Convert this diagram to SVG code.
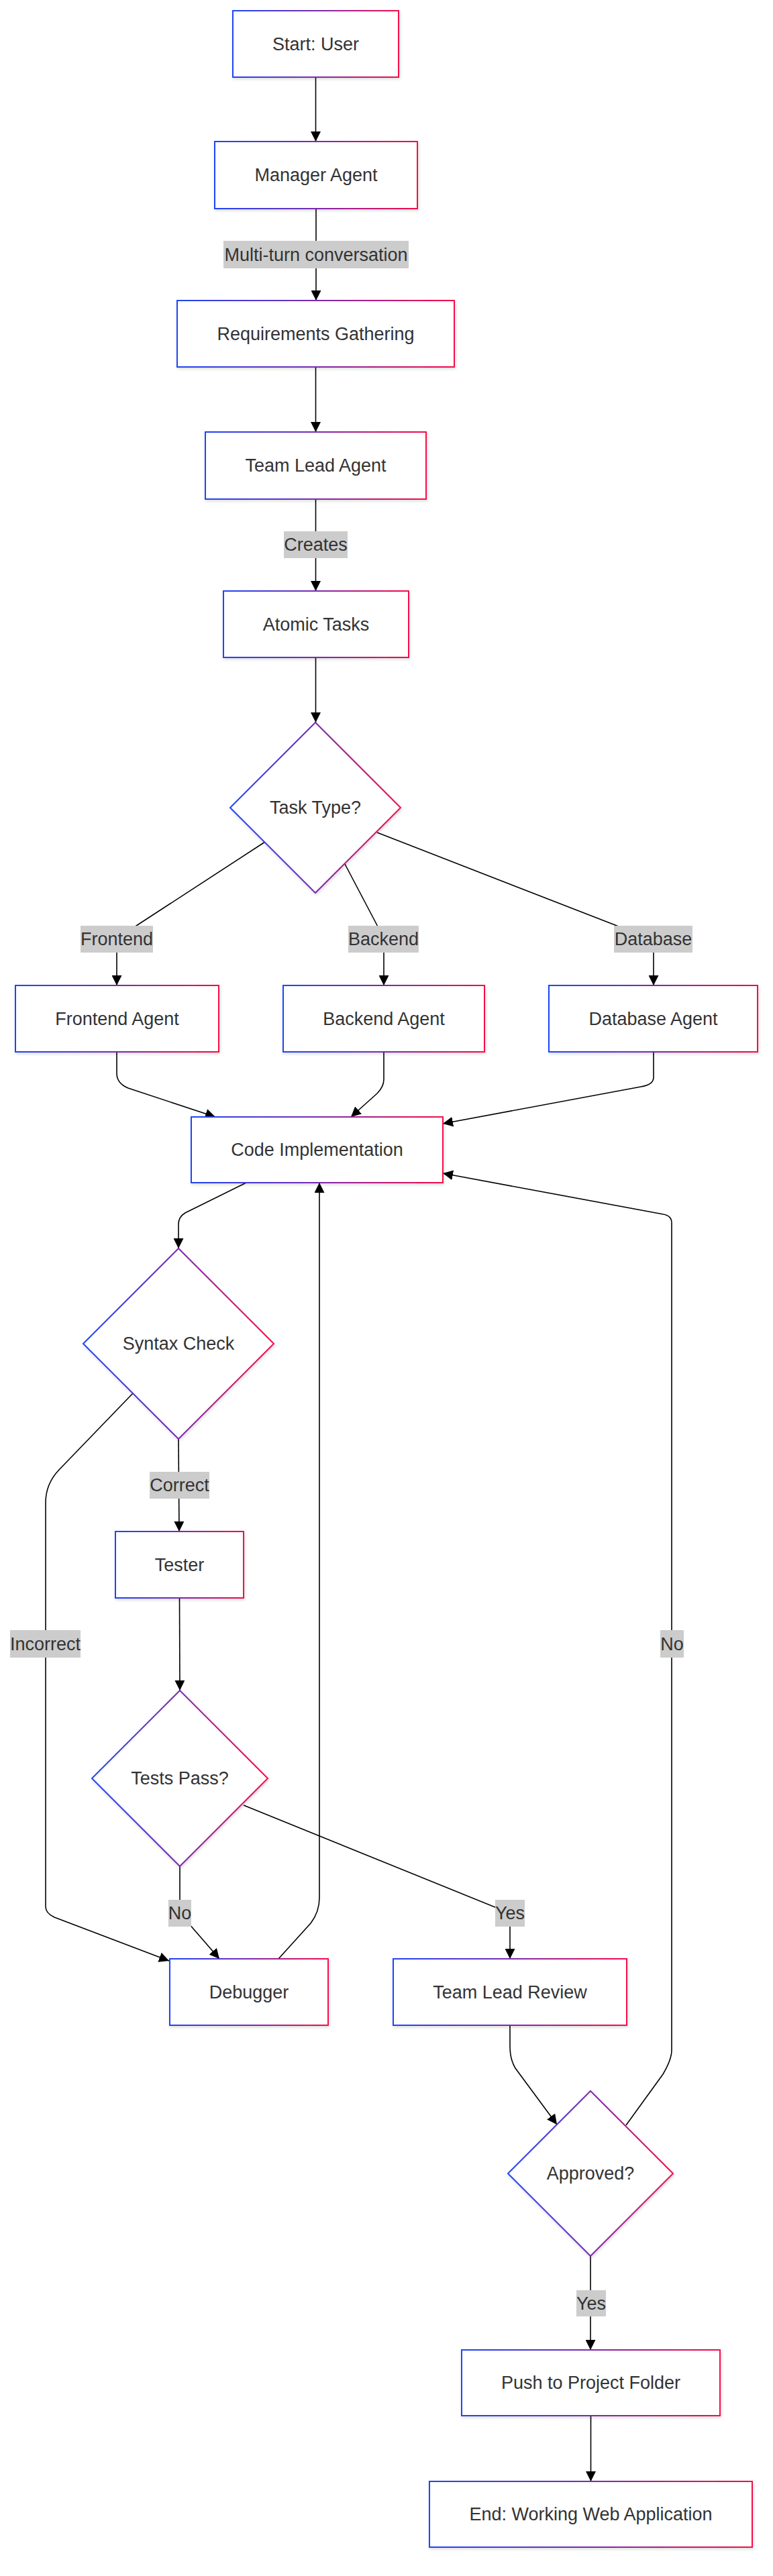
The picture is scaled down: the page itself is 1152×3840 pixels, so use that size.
<svg xmlns="http://www.w3.org/2000/svg" width="1152" height="3840" viewBox="0 0 1152 3840">
<defs>
<linearGradient id="g" x1="0" y1="0" x2="1" y2="0">
<stop offset="0" stop-color="#1f45f8"/>
<stop offset="0.5" stop-color="#7a2cb0"/>
<stop offset="1" stop-color="#f80a48"/>
</linearGradient>
<filter id="sh" x="-10%" y="-10%" width="120%" height="130%">
<feDropShadow dx="1" dy="2" stdDeviation="2" flood-color="#000" flood-opacity="0.15"/>
</filter>
<marker id="ah" viewBox="0 0 10 10" refX="10" refY="5" markerWidth="15" markerHeight="15" markerUnits="userSpaceOnUse" orient="auto">
<path d="M0,0 L10,5 L0,10 z" fill="#000"/>
</marker>
</defs>
<style>
.n rect, .n polygon { fill: #fff; stroke: url(#g); stroke-width: 2; filter: url(#sh); }
.t { font-family: "Liberation Sans", Arial, sans-serif; font-size: 27px; fill: #333; text-anchor: middle; dominant-baseline: central; }
.e path { fill: none; stroke: #000; stroke-width: 1.6; }
.lb rect { fill: #cccccc; }
</style>
<rect x="0" y="0" width="1152" height="3840" fill="#fff"/>

<g id="connectors" class="e">
<path d="M470.5,115 L470.5,211" marker-end="url(#ah)"/>
<path d="M471,311 L471,448" marker-end="url(#ah)"/>
<path d="M470.5,547 L470.5,644" marker-end="url(#ah)"/>
<path d="M470.5,744 L470.5,881" marker-end="url(#ah)"/>
<path d="M470.5,980 L470.5,1077" marker-end="url(#ah)"/>
<path d="M395,1255 L200,1382 Q174,1399 174,1420 L174,1469" marker-end="url(#ah)"/>
<path d="M514,1288 L565,1385 Q572,1398 572,1420 L572,1469" marker-end="url(#ah)"/>
<path d="M562,1241 L940,1388 Q974,1400 974,1420 L974,1469" marker-end="url(#ah)"/>
<path d="M174,1568 L174,1600 Q174,1615 191,1622 L321,1665" marker-end="url(#ah)"/>
<path d="M572,1568 L572,1609 Q572,1620 562,1630 L523,1665" marker-end="url(#ah)"/>
<path d="M974,1568 L974,1606 Q974,1617 955,1620 L660,1675" marker-end="url(#ah)"/>
<path d="M367,1763 L276,1808 Q266,1814 266,1825 L266,1861" marker-end="url(#ah)"/>
<path d="M266,2145 L267,2283" marker-end="url(#ah)"/>
<path d="M198,2077 L88,2191 Q68,2212 68,2240 L68,2842 Q68,2852 81,2858 L252,2923" marker-end="url(#ah)"/>
<path d="M267.5,2382 L268,2520" marker-end="url(#ah)"/>
<path d="M268,2782 L268,2852 L327,2920" marker-end="url(#ah)"/>
<path d="M363,2691 L760,2852 L760,2920" marker-end="url(#ah)"/>
<path d="M415,2920 L463,2867 Q476,2850 476,2829 L476,1763" marker-end="url(#ah)"/>
<path d="M760,3019 L760,3050 Q760,3070 768,3083 L830,3167" marker-end="url(#ah)"/>
<path d="M933,3168 L988,3092 Q1001,3070 1001,3056 L1001,1823 Q1001,1812 988,1810 L660,1749" marker-end="url(#ah)"/>
<path d="M880,3363 L880,3503" marker-end="url(#ah)"/>
<path d="M880.5,3601 L880.5,3699" marker-end="url(#ah)"/>
</g>

<g id="edge-labels" class="lb">
<g id="lbl-multiturn"><rect x="333" y="359" width="276" height="41"/><text class="t" x="471" y="379.5">Multi-turn conversation</text></g>
<g id="lbl-creates"><rect x="423" y="792" width="95" height="40"/><text class="t" x="470.5" y="812">Creates</text></g>
<g id="lbl-frontend"><rect x="120" y="1380" width="108" height="40"/><text class="t" x="174" y="1400">Frontend</text></g>
<g id="lbl-backend"><rect x="519" y="1380" width="105" height="40"/><text class="t" x="571.5" y="1400">Backend</text></g>
<g id="lbl-database"><rect x="915" y="1380" width="117" height="40"/><text class="t" x="973.5" y="1400">Database</text></g>
<g id="lbl-correct"><rect x="223" y="2194" width="89" height="40"/><text class="t" x="267.5" y="2214">Correct</text></g>
<g id="lbl-incorrect"><rect x="15" y="2430" width="105" height="41"/><text class="t" x="67.5" y="2450.5">Incorrect</text></g>
<g id="lbl-no1"><rect x="251" y="2832" width="34" height="40"/><text class="t" x="268" y="2852">No</text></g>
<g id="lbl-yes1"><rect x="738" y="2832" width="44" height="40"/><text class="t" x="760" y="2852">Yes</text></g>
<g id="lbl-no2"><rect x="984" y="2430" width="35" height="41"/><text class="t" x="1001.5" y="2450.5">No</text></g>
<g id="lbl-yes2"><rect x="859" y="3414" width="44" height="39"/><text class="t" x="881" y="3433.5">Yes</text></g>
</g>

<g id="start" class="n"><rect x="347" y="16" width="247" height="99"/><text class="t" x="470.5" y="65.5">Start: User</text></g>
<g id="manager" class="n"><rect x="320" y="211" width="302" height="100"/><text class="t" x="471" y="261">Manager Agent</text></g>
<g id="requirements" class="n"><rect x="264" y="448" width="413" height="99"/><text class="t" x="470.5" y="497.5">Requirements Gathering</text></g>
<g id="teamlead" class="n"><rect x="306" y="644" width="329" height="100"/><text class="t" x="470.5" y="694">Team Lead Agent</text></g>
<g id="atomic" class="n"><rect x="333" y="881" width="276" height="99"/><text class="t" x="471" y="930.5">Atomic Tasks</text></g>
<g id="tasktype" class="n"><polygon points="470,1077 597,1204 470,1331 343,1204"/><text class="t" x="470" y="1204">Task Type?</text></g>
<g id="frontend" class="n"><rect x="23" y="1469" width="303" height="99"/><text class="t" x="174.5" y="1518.5">Frontend Agent</text></g>
<g id="backend" class="n"><rect x="422" y="1469" width="300" height="99"/><text class="t" x="572" y="1518.5">Backend Agent</text></g>
<g id="database" class="n"><rect x="818" y="1469" width="311" height="99"/><text class="t" x="973.5" y="1518.5">Database Agent</text></g>
<g id="code" class="n"><rect x="285" y="1665" width="375" height="98"/><text class="t" x="472.5" y="1714">Code Implementation</text></g>
<g id="syntax" class="n"><polygon points="266,1861 408,2003 266,2145 124,2003"/><text class="t" x="266" y="2003">Syntax Check</text></g>
<g id="tester" class="n"><rect x="172" y="2283" width="191" height="99"/><text class="t" x="267.5" y="2332.5">Tester</text></g>
<g id="testspass" class="n"><polygon points="268,2520 399,2651 268,2782 137,2651"/><text class="t" x="268" y="2651">Tests Pass?</text></g>
<g id="debugger" class="n"><rect x="253" y="2920" width="236" height="99"/><text class="t" x="371" y="2969.5">Debugger</text></g>
<g id="review" class="n"><rect x="586" y="2920" width="348" height="99"/><text class="t" x="760" y="2969.5">Team Lead Review</text></g>
<g id="approved" class="n"><polygon points="880,3117 1003,3240 880,3363 757,3240"/><text class="t" x="880" y="3240">Approved?</text></g>
<g id="push" class="n"><rect x="688" y="3503" width="385" height="98"/><text class="t" x="880.5" y="3552">Push to Project Folder</text></g>
<g id="end" class="n"><rect x="640" y="3699" width="481" height="98"/><text class="t" x="880.5" y="3748">End: Working Web Application</text></g>
</svg>
